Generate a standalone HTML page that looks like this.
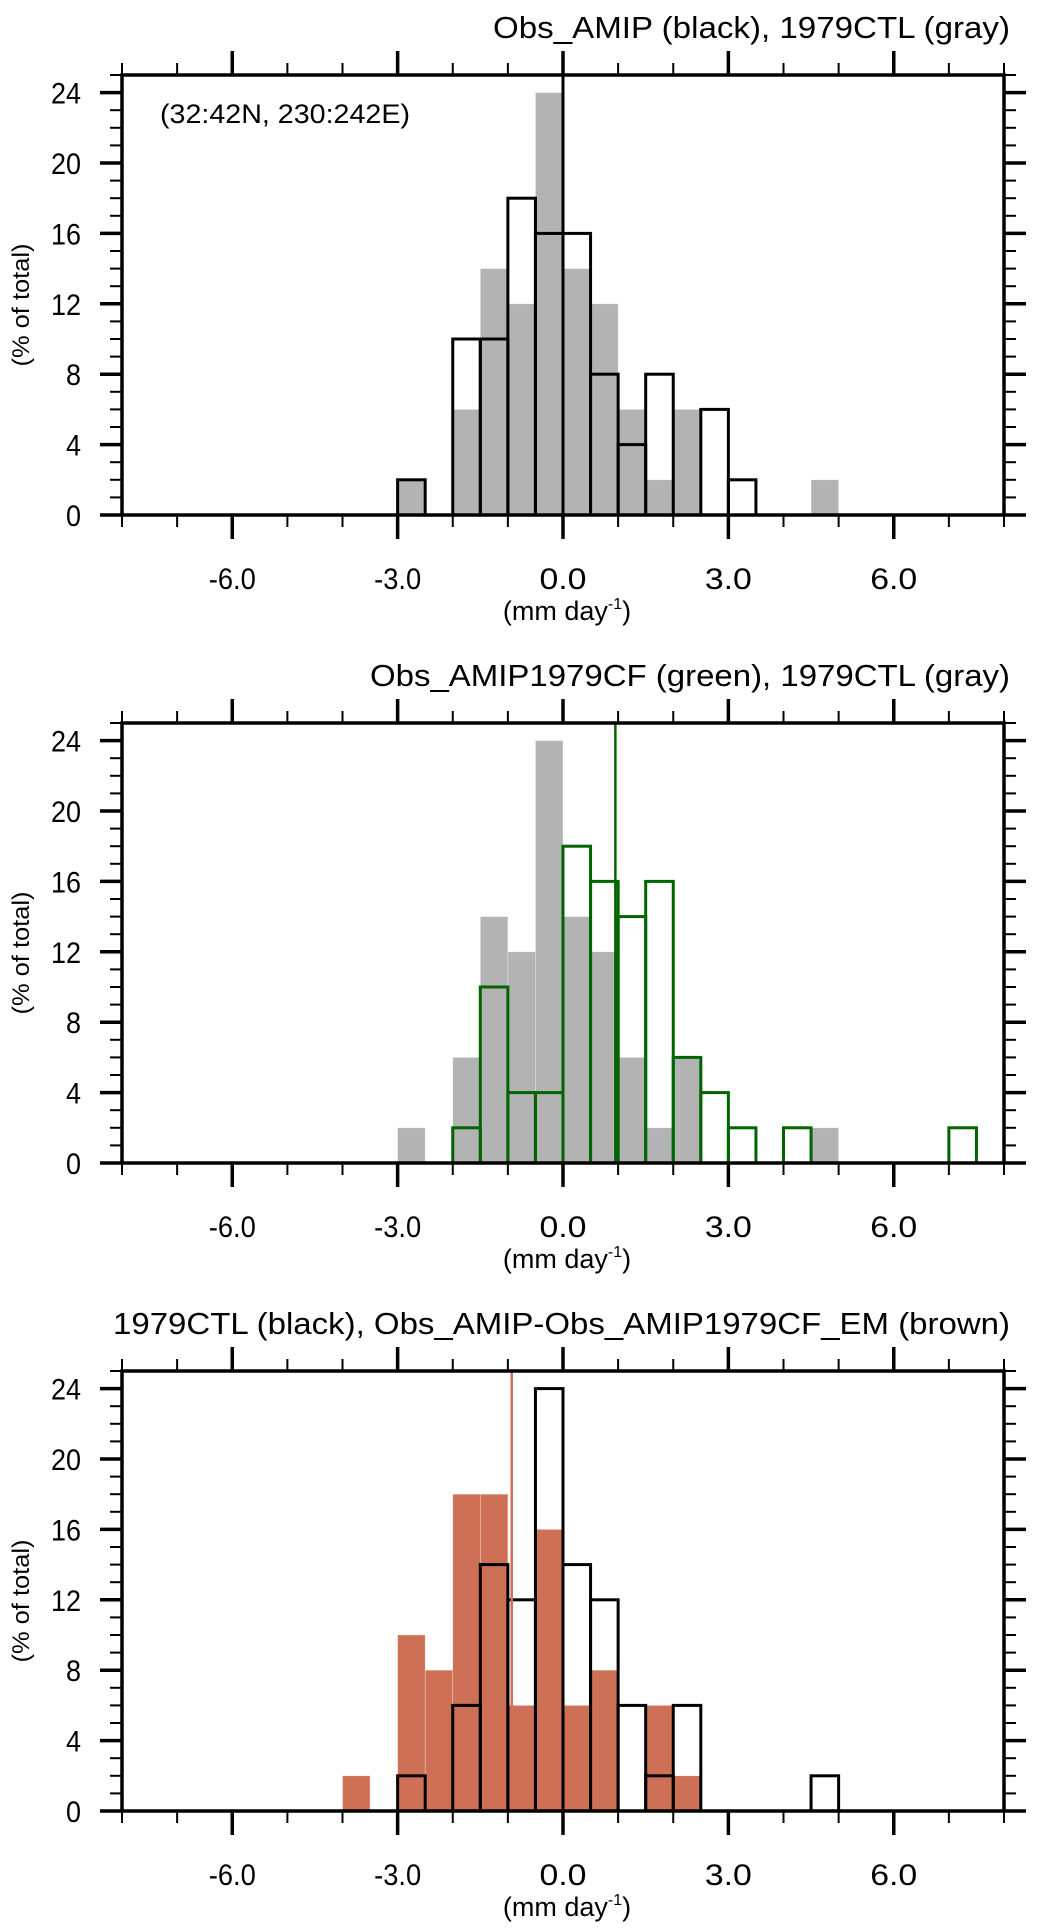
<!DOCTYPE html>
<html><head><meta charset="utf-8"><style>
html,body{margin:0;padding:0;background:#fff;}
svg{display:block;}
text{font-family:"Liberation Sans",Arial,sans-serif;fill:#000;}
</style></head><body>
<svg id="fig" width="1038" height="1928" viewBox="0 0 1038 1928" xmlns="http://www.w3.org/2000/svg"></svg>
<script>
// bins of width 0.5 from -8 to 8 (32 bins)
const binStart = -8;
const binWidth = 0.5;
const ctl1979 = [0,0,0,0,0,0,0,0, 0,0,2,0,6,14,12,24, 14,12,6,2,6,0,0,0, 0,2,0,0,0,0,0,0];
const obsAmip = [0,0,0,0,0,0,0,0, 0,0,2,0,10,10,18,16, 16,8,4,8,0,6,2,0, 0,0,0,0,0,0,0,0];
const obsCF   = [0,0,0,0,0,0,0,0, 0,0,0,0,2,10,4,4, 18,16,14,16,6,4,2,0, 2,0,0,0,0,0,2,0];
const diffEM  = [0,0,0,0,0,0,0,0, 2,0,10,8,18,18,6,16, 6,8,0,6,2,0,0,0, 0,0,0,0,0,0,0,0];
const xTicks = [-6,-3,0,3,6];
const xTickLabels = ["-6.0","-3.0","0.0","3.0","6.0"];
const yTicks = [0,4,8,12,16,20,24];
const meanLines = [0, 0.95, -0.93];
const titles = ["Obs_AMIP (black), 1979CTL (gray)","Obs_AMIP1979CF (green), 1979CTL (gray)","1979CTL (black), Obs_AMIP-Obs_AMIP1979CF_EM (brown)"];

const NS="http://www.w3.org/2000/svg";
const svg=document.getElementById('fig');
const L=122,R=1004,XMIN=-8,XMAX=8,YMAX=25;
function mk(tag,attrs,parent){const e=document.createElementNS(NS,tag);for(const k in attrs)e.setAttribute(k,attrs[k]);(parent||svg).appendChild(e);return e;}
function xs(v){return L+(v-XMIN)/(XMAX-XMIN)*(R-L);}

const panels=[
 {off:0, fill:ctl1979, fillColor:'#b3b3b3', outline:obsAmip, outColor:'#000', line:'#000', lineW:3, title:titles[0], tlen:517, tx:1010},
 {off:648, fill:ctl1979, fillColor:'#b3b3b3', outline:obsCF, outColor:'#006400', line:'#006400', lineW:2.5, title:titles[1], tlen:640, tx:1010},
 {off:1296, fill:diffEM, fillColor:'#cd7055', outline:ctl1979, outColor:'#000', line:'#cd7055', lineW:2.5, title:titles[2], tlen:897, tx:1010}
];
panels.forEach((p,pi)=>{
 const top=75+p.off, bot=515+p.off;
 function ys(v){return bot-v/YMAX*(bot-top);}
 const g=mk('g',{});
 
 
 const t=mk('text',{x:p.tx,y:38+p.off,'text-anchor':'end','font-size':31,textLength:p.tlen,lengthAdjust:'spacingAndGlyphs'},g);
 t.textContent=p.title;
 
 
 p.fill.forEach((v,i)=>{ if(!v) return;
  const x0=xs(binStart+i*binWidth),x1=xs(binStart+(i+1)*binWidth);
  const r=mk('rect',{x:x0,y:ys(v),width:x1-x0,height:bot-ys(v),fill:p.fillColor,stroke:'#fff','stroke-width':0.6,'stroke-opacity':0.5},g);
  
  
 });
 p.outline.forEach((v,i)=>{ if(!v) return;
  const x0=xs(binStart+i*binWidth),x1=xs(binStart+(i+1)*binWidth);
  const r=mk('rect',{x:x0,y:ys(v),width:x1-x0,height:bot-ys(v),fill:'none',stroke:p.outColor,'stroke-width':3},g);
  
  
 });
 const ml=mk('line',{x1:xs(meanLines[pi]),x2:xs(meanLines[pi]),y1:top,y2:bot,stroke:p.line,'stroke-width':p.lineW},g);
 
 
 const fr=mk('rect',{x:L,y:top,width:R-L,height:bot-top,fill:'none',stroke:'#000','stroke-width':3.5},g);
 
 
 for(let v=-8;v<=8;v++){
  const major=v%3===0; const len=major?24:12; const w=major?3.5:2;
  mk('line',{x1:xs(v),x2:xs(v),y1:bot,y2:bot+len,stroke:'#000','stroke-width':w},g);
  mk('line',{x1:xs(v),x2:xs(v),y1:top,y2:top-len,stroke:'#000','stroke-width':w},g);
 }
 xTicks.forEach((v,i)=>{
  const tl=mk('text',{x:xs(v),y:589+p.off,'text-anchor':'middle','font-size':30,textLength:47,lengthAdjust:'spacingAndGlyphs'},g);
  tl.textContent=xTickLabels[i];
  
  
 });
 for(let v=0;v<=25;v++){
  const major=v%4===0; const len=major?22:12; const w=major?3.5:2;
  mk('line',{x1:L,x2:L-len,y1:ys(v),y2:ys(v),stroke:'#000','stroke-width':w},g);
  mk('line',{x1:R,x2:R+len,y1:ys(v),y2:ys(v),stroke:'#000','stroke-width':w},g);
 }
 yTicks.forEach(v=>{
  const tl=mk('text',{x:81,y:ys(v)+11,'text-anchor':'end','font-size':30,textLength:String(v).length*15,lengthAdjust:'spacingAndGlyphs'},g);
  tl.textContent=String(v);
  
  
 });
 const xt=mk('text',{x:567,y:620+p.off,'text-anchor':'middle','font-size':27},g);
 xt.innerHTML='(mm day<tspan dy="-11" font-size="16">-1</tspan><tspan dy="11">)</tspan>';
 
 
 const yt=mk('text',{x:0,y:0,'text-anchor':'middle','font-size':24,transform:'translate(29,'+(305+p.off)+') rotate(-90)',textLength:123,lengthAdjust:'spacingAndGlyphs'},g);
 yt.textContent='(% of total)';
 
 
 if(pi===0){
  const an=mk('text',{x:160,y:123,'font-size':27,textLength:250,lengthAdjust:'spacingAndGlyphs'},g);
  an.textContent='(32:42N, 230:242E)';
  
  
 }
});
</script>
</body></html>
